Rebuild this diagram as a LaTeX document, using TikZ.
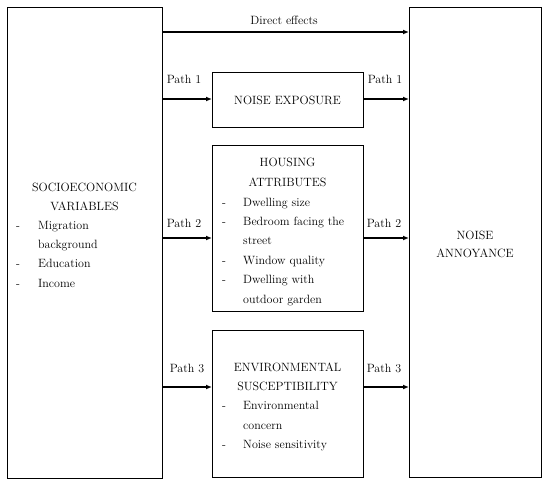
\documentclass[tikz,border=0pt]{standalone}
\usetikzlibrary{arrows.meta}
\begin{document}
\begin{tikzpicture}[x=1pt,y=-1pt,
  box/.style={draw, line width=1.3pt, inner sep=0pt, anchor=north west},
  arr/.style={line width=1.2pt, -{Latex[length=6pt,width=5pt]}},
  txt/.style={inner sep=0pt, font=\fontsize{12}{14}\selectfont},
  ctr/.style={txt, anchor=base},
  lft/.style={txt, anchor=base west},
  dsh/.style={txt, anchor=base}]
\useasboundingbox (0,0) rectangle (550,485);
% boxes
\node[box, minimum width=155pt, minimum height=471pt] (soc) at (7,7) {};
\node[box, minimum width=132pt, minimum height=470pt] (ann) at (409,7) {};
\node[box, minimum width=151pt, minimum height=55pt] (exp) at (212,72) {};
\node[box, minimum width=151pt, minimum height=166pt] (hous) at (212,145) {};
\node[box, minimum width=151pt, minimum height=147pt] (env) at (212,330) {};
% socioeconomic text
\node[ctr] (s1) at (84.5,191) {SOCIOECONOMIC};
\node[ctr] (s2) at (84.5,210) {VARIABLES};
\node[dsh] (sd1) at (18,229) {-};
\node[lft] (s3) at (38,229) {Migration};
\node[lft] (s4) at (38,248) {background};
\node[dsh] (sd2) at (18,267) {-};
\node[lft] (s5) at (38,267) {Education};
\node[dsh] (sd3) at (18,287) {-};
\node[lft] (s6) at (38,287) {Income};
% exposure
\node[ctr] (e1) at (287.5,104) {NOISE EXPOSURE};
% housing
\node[ctr] (h1) at (287.5,166) {HOUSING};
\node[ctr] (h2) at (287.5,186) {ATTRIBUTES};
\node[dsh] (hd1) at (224,206) {-};
\node[lft] (h3) at (243,206) {Dwelling size};
\node[dsh] (hd2) at (224,225) {-};
\node[lft] (h4) at (243,225) {Bedroom facing the};
\node[lft] (h5) at (243,244) {street};
\node[dsh] (hd3) at (224,264) {-};
\node[lft] (h6) at (243,264) {Window quality};
\node[dsh] (hd4) at (224,283) {-};
\node[lft] (h7) at (243,283) {Dwelling with};
\node[lft] (h8) at (243,303) {outdoor garden};
% environmental
\node[ctr] (v1) at (287.5,371) {ENVIRONMENTAL};
\node[ctr] (v2) at (287.5,390) {SUSCEPTIBILITY};
\node[dsh] (vd1) at (224,409) {-};
\node[lft] (v3) at (243,409) {Environmental};
\node[lft] (v4) at (243,429) {concern};
\node[dsh] (vd2) at (224,448) {-};
\node[lft] (v5) at (243,448) {Noise sensitivity};
% annoyance
\node[ctr] (a1) at (475,239) {NOISE};
\node[ctr] (a2) at (475,257) {ANNOYANCE};
% arrow levels
\coordinate (y0) at (0,32);
\coordinate (y1) at (0,99);
\coordinate (y2) at (0,238);
\coordinate (y3) at (0,387);
\draw[arr] (soc.east |- y0) -- (ann.west |- y0);
\draw[arr] (soc.east |- y1) -- (exp.west |- y1);
\draw[arr] (exp.east |- y1) -- (ann.west |- y1);
\draw[arr] (soc.east |- y2) -- (hous.west |- y2);
\draw[arr] (hous.east |- y2) -- (ann.west |- y2);
\draw[arr] (soc.east |- y3) -- (env.west |- y3);
\draw[arr] (env.east |- y3) -- (ann.west |- y3);
% labels
\node[ctr] (l0) at (284,24) {Direct effects};
\node[ctr] (l1a) at (184,83) {Path 1};
\node[ctr] (l1b) at (385,83) {Path 1};
\node[ctr] (l2a) at (184,227) {Path 2};
\node[ctr] (l2b) at (384,227) {Path 2};
\node[ctr] (l3a) at (187,372) {Path 3};
\node[ctr] (l3b) at (384,372) {Path 3};
\end{tikzpicture}
\end{document}
